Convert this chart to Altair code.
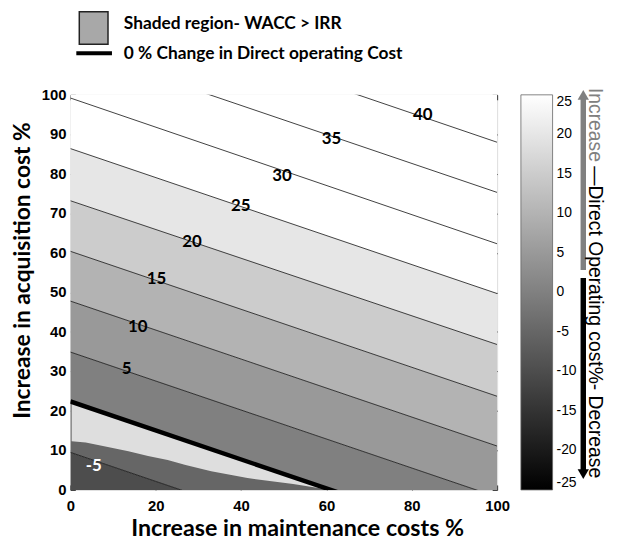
import altair as alt
import pandas as pd

# ---- data ----
# contour levels and the y value where each straight contour line meets x=0 and x=100
levels = [-10, -5, 0, 5, 10, 15, 20, 25, 30, 35, 40, 45]
line_y_left = [-3.3, 9.5, 22.4, 34.9, 47.8, 60.4, 73.2, 86.4, 99.2, 112.0, 124.8, 137.6]
line_y_right = [-40.0, -27.2, -14.3, -1.8, 11.1, 23.7, 36.8, 49.7, 62.3, 75.3, 88.0, 100.9]
edge_x = [0, 100]
drawn_levels = [-5, 5, 10, 15, 20, 25, 30, 35, 40]

# contour labels
label_text = ["40", "35", "30", "25", "20", "15", "10", "5", "-5"]
label_x = [82.6, 61.2, 49.6, 39.9, 28.5, 20.2, 15.8, 13.2, 5.5]
label_y = [95.0, 88.7, 79.5, 71.9, 62.7, 53.5, 41.2, 30.5, 6.0]

# shaded region (WACC > IRR)
shade_x = [0.3, 3.6, 8.2, 13.6, 18.2, 22.8, 27.0, 33.0, 41.5, 52.2, 58.5, 60.5]
shade_low = [12.3, 12.0, 11.0, 9.8, 8.6, 7.6, 6.3, 4.7, 3.0, 1.5, 0.4, 0.0]
shade_high = [22.3, 21.1, 19.4, 17.4, 15.7, 14.0, 12.5, 10.3, 7.2, 3.2, 0.9, 0.2]

tick_x = [0, 20, 40, 60, 80, 100]
tick_y = [0, 10, 20, 30, 40, 50, 60, 70, 80, 90, 100]
cbar_ticks = [-25, -20, -15, -10, -5, 0, 5, 10, 15, 20, 25]
cbar_domain = [-25, 25]

legend_labels = ["Shaded region- WACC > IRR", "0 % Change in Direct operating Cost"]
cbar_title = ["Increase", "\u2014Direct Operating cost%- Decrease"]
x_title = "Increase in maintenance costs %"
y_title = "Increase in acquisition cost %"

# ---- tables ----
band_rows = []
for i in range(len(levels) - 1):
    for ex, ys in zip(edge_x, (line_y_left, line_y_right)):
        band_rows.append({"band": i, "level": levels[i], "x": ex, "y": ys[i], "y2": ys[i + 1]})
bands = pd.DataFrame(band_rows)

line_rows = []
for i, lv in enumerate(levels):
    if lv in drawn_levels:
        for ex, ys in zip(edge_x, (line_y_left, line_y_right)):
            line_rows.append({"level": lv, "x": ex, "y": ys[i]})
lines = pd.DataFrame(line_rows)

i0 = levels.index(0)
zero_line = pd.DataFrame({"x": edge_x, "y": [line_y_left[i0], line_y_right[i0]]})
labels = pd.DataFrame({"text": label_text, "x": label_x, "y": label_y})
shade = pd.DataFrame({"x": shade_x, "lo": shade_low, "hi": shade_high})
ytick_df = pd.DataFrame({"v": tick_y})

W, H = 431, 399
LAB_FONT = "Lato"
NUM_FONT = "Liberation Sans"

sx = alt.Scale(domain=[0, 100], nice=False, zero=False)
sy = alt.Scale(domain=[0, 100], nice=False, zero=False)

x_axis = alt.Axis(values=tick_x, title=x_title, titleFont=LAB_FONT, titleFontSize=23.5,
                  titleFontWeight="bold", titleColor="black", titlePadding=3, titleX=229,
                  labelFont=NUM_FONT, labelFontSize=15, labelFontWeight="bold", labelColor="black",
                  labelPadding=9, tickSize=5, offset=-5, domain=False, grid=False,
                  tickColor="#333", labelFlush=False, labelOverlap=False)
# y tick labels are drawn as a text layer below (the axis keeps ticks and title)
y_axis = alt.Axis(values=tick_y, title=y_title, titleFont=LAB_FONT, titleFontSize=23,
                  titleFontWeight="bold", titleColor="black", titlePadding=36, titleY=177,
                  labels=False, tickSize=5, offset=-5, domain=False, grid=False,
                  tickColor="#333")

color_scale = alt.Scale(domain=cbar_domain, range=["#000000", "#ffffff"], interpolate="rgb", clamp=True)
cbar_legend = alt.Legend(orient="none", legendX=455, legendY=0, direction="vertical",
                         gradientLength=H, gradientThickness=32, title=None, values=cbar_ticks,
                         labelFont=NUM_FONT, labelFontSize=14, labelColor="black", labelOffset=4,
                         labelBaseline="middle", labelOverlap=False, gradientStrokeColor="#666",
                         gradientStrokeWidth=0.8, padding=0, labelExpr="'' + datum.value")

band_chart = alt.Chart(bands).mark_area(clip=True, orient="vertical").encode(
    x=alt.X("x:Q", scale=sx, axis=x_axis),
    y=alt.Y("y:Q", scale=sy, axis=y_axis),
    y2="y2:Q",
    detail="band:N",
    color=alt.Color("level:Q", scale=color_scale, legend=cbar_legend),
)

shade_chart = alt.Chart(shade).mark_area(clip=True, orient="vertical", color="#dedede").encode(
    x=alt.X("x:Q", axis=x_axis), y=alt.Y("lo:Q", axis=y_axis), y2="hi:Q"
)

line_chart = alt.Chart(lines).mark_line(clip=True, color="#111111", strokeWidth=0.8).encode(
    x=alt.X("x:Q", axis=x_axis), y=alt.Y("y:Q", axis=y_axis), detail="level:N"
)

zero_chart = alt.Chart(zero_line).mark_line(clip=True, color="black", strokeWidth=4.5).encode(
    x=alt.X("x:Q", axis=x_axis), y=alt.Y("y:Q", axis=y_axis)
)

label_chart = alt.Chart(labels).mark_text(font=LAB_FONT, fontSize=17, fontWeight="bold").encode(
    x=alt.X("x:Q", axis=x_axis), y=alt.Y("y:Q", axis=y_axis), text="text:N",
    color=alt.condition(alt.datum.text == "-5", alt.value("white"), alt.value("black")),
)

ytick_labels = alt.Chart(ytick_df).mark_text(
    align="right", baseline="middle", font=NUM_FONT, fontSize=15, fontWeight="bold", color="black"
).encode(y=alt.Y("v:Q", axis=y_axis), x=alt.value(-4), text="v:Q")

one = pd.DataFrame({"k": [0]})
icon = alt.Chart(one).mark_rect(fill="#a8a8a8", stroke="#222222", strokeWidth=1.5).encode(
    x=alt.value(9), x2=alt.value(38), y=alt.value(-84), y2=alt.value(-51)
)
leg_line = alt.Chart(one).mark_rule(color="black", strokeWidth=4).encode(
    x=alt.value(6), x2=alt.value(42), y=alt.value(-42)
)
leg_t1 = alt.Chart(pd.DataFrame({"t": [legend_labels[0]]})).mark_text(
    align="left", baseline="middle", font=LAB_FONT, fontSize=17.5, fontWeight="bold", color="black"
).encode(x=alt.value(54), y=alt.value(-72), text="t:N")
leg_t2 = alt.Chart(pd.DataFrame({"t": [legend_labels[1]]})).mark_text(
    align="left", baseline="middle", font=LAB_FONT, fontSize=17.5, fontWeight="bold", color="black"
).encode(x=alt.value(54), y=alt.value(-41), text="t:N")

# colour-bar side annotation
AX = 518
arrow_up_shaft = alt.Chart(one).mark_rule(color="#808080", strokeWidth=5.5).encode(
    x=alt.value(AX), y=alt.value(2), y2=alt.value(177)
)
arrow_up_head = alt.Chart(one).mark_point(shape="triangle-up", filled=True, color="#808080",
                                          size=130, opacity=1).encode(x=alt.value(AX), y=alt.value(0))
arrow_dn_shaft = alt.Chart(one).mark_rule(color="black", strokeWidth=5.5).encode(
    x=alt.value(AX), y=alt.value(185), y2=alt.value(381)
)
arrow_dn_head = alt.Chart(one).mark_point(shape="triangle-down", filled=True, color="black",
                                          size=130, opacity=1).encode(x=alt.value(AX), y=alt.value(383))
TX = 530
ct1 = alt.Chart(pd.DataFrame({"t": [cbar_title[0]]})).mark_text(
    align="left", baseline="middle", angle=90, font=NUM_FONT, fontSize=19.5, color="#808080"
).encode(x=alt.value(TX), y=alt.value(-7), text="t:N")
ct2 = alt.Chart(pd.DataFrame({"t": [cbar_title[1]]})).mark_text(
    align="left", baseline="middle", angle=90, font=NUM_FONT, fontSize=19.5, color="black"
).encode(x=alt.value(TX), y=alt.value(72), text="t:N")

inner = alt.layer(band_chart, shade_chart, line_chart, zero_chart, label_chart, ytick_labels,
                  icon, leg_line, leg_t1, leg_t2,
                  arrow_up_shaft, arrow_up_head, arrow_dn_shaft, arrow_dn_head, ct1, ct2)

mirror = alt.Chart(zero_line).mark_point(opacity=0).encode(
    x=alt.X("x:Q", scale=sx, axis=alt.Axis(orient="top", values=tick_x, labels=False, title=None,
                                           tickSize=5, offset=-5, domain=False, grid=False,
                                           tickColor="#333")),
    y=alt.Y("y:Q", scale=sy, axis=alt.Axis(orient="right", values=tick_y, labels=False, title=None,
                                           tickSize=5, offset=-5, domain=False, grid=False,
                                           tickColor="#333")),
)

chart = alt.layer(inner, mirror).resolve_scale(x="independent", y="independent").properties(
    width=W, height=H, padding={"left": 3, "top": 0, "right": 6, "bottom": 0}
).configure_view(stroke="#333333", strokeWidth=1).configure(background="white")

chart.save("out.html", embed_options={"renderer": "svg", "actions": False})
